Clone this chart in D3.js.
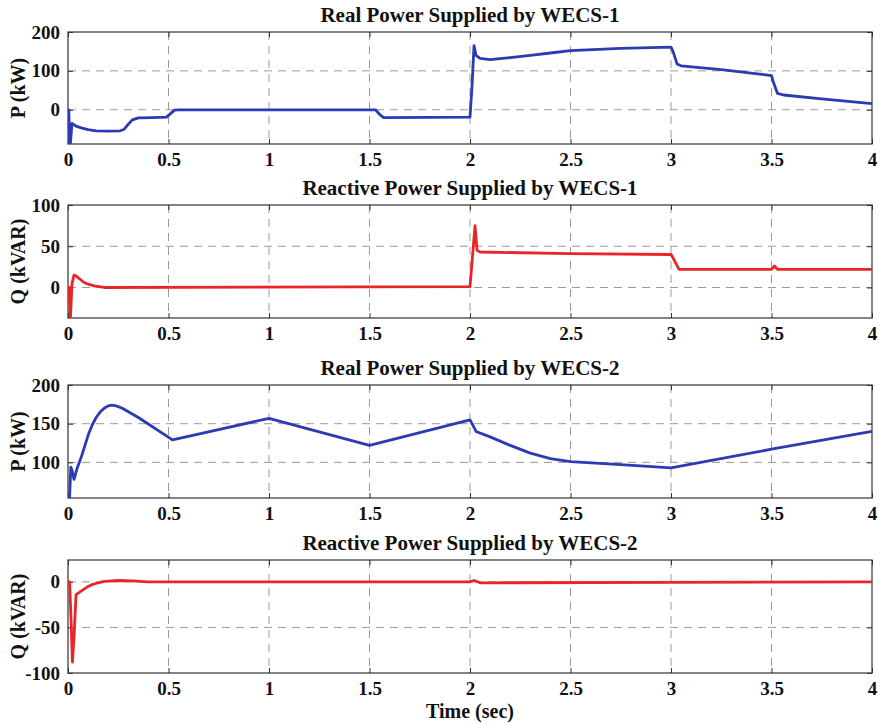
<!DOCTYPE html>
<html>
<head>
<meta charset="utf-8">
<script src="https://cdn.jsdelivr.net/npm/d3@7"></script>
<style>
  body { margin: 0; background: #fff; }
  text { font-family: "Liberation Serif", "Times New Roman", serif; font-weight: bold; fill: #111; }
</style>
</head>
<body>
<div id="chart"></div>
<script>
// time axis ticks shared by all four panels
var timeTicks = [0, 0.5, 1, 1.5, 2, 2.5, 3, 3.5, 4]

// real power WECS-1 (kW)
var p1Time = [0, 0.004, 0.008, 0.012, 0.02, 0.04, 0.07, 0.1, 0.14, 0.2, 0.26, 0.28, 0.3, 0.32, 0.35, 0.42, 0.49, 0.51, 0.53, 0.55, 1.53, 1.55, 1.57, 2.0, 2.01, 2.02, 2.03, 2.05, 2.1, 2.2, 2.3, 2.4, 2.5, 2.75, 3.0, 3.01, 3.03, 3.05, 3.25, 3.5, 3.51, 3.53, 3.56, 3.75, 4.0]
var p1Values = [0, 0, -86, -86, -35, -42, -47, -51, -54, -55, -54, -50, -37, -26, -21, -20, -19, -10, -1, 0, 0, -12, -20, -19, 60, 165, 140, 132, 129, 134, 140, 146, 152, 158, 161, 150, 118, 113, 103, 88, 70, 42, 38, 28, 16]

// reactive power WECS-1 (kVAR)
var q1Time = [0, 0.006, 0.012, 0.02, 0.03, 0.04, 0.06, 0.08, 0.1, 0.13, 0.18, 2.0, 2.01, 2.025, 2.035, 2.05, 2.5, 3.0, 3.01, 3.04, 3.5, 3.515, 3.53, 4.0]
var q1Values = [0, 0, -38, 5, 15, 14, 10, 6, 4, 2, 0, 1, 30, 75, 45, 43, 41, 40, 36, 22, 22, 26, 22, 22]

// real power WECS-2 (kW)
var p2Time = [0, 0.008, 0.014, 0.02, 0.03, 0.045, 0.07, 0.1, 0.12, 0.14, 0.16, 0.18, 0.2, 0.22, 0.24, 0.27, 0.35, 0.52, 1.0, 1.5, 2.0, 2.01, 2.03, 2.1, 2.2, 2.3, 2.4, 2.5, 2.75, 3.0, 3.5, 4.0]
var p2Values = [55, 55, 94, 90, 78, 92, 110, 135, 148, 158, 165, 170, 173, 174, 173, 170, 158, 129, 157, 122, 155, 150, 140, 133, 122, 112, 105, 101, 97, 93, 117, 140]

// reactive power WECS-2 (kVAR)
var q2Time = [0, 0.008, 0.015, 0.022, 0.03, 0.04, 0.06, 0.08, 0.1, 0.12, 0.15, 0.18, 0.25, 0.32, 0.4, 2.0, 2.02, 2.05, 2.1, 4.0]
var q2Values = [0, 0, -40, -88, -60, -14, -11, -8, -5, -3, -1, 0.5, 1.5, 1, 0, 0, 1.5, -1, -1, 0]

var panels = [
  {title: "Real Power Supplied by WECS-1", ylabel: "P (kW)", t: p1Time, v: p1Values, domain: [-88, 200], ticks: [0, 100, 200], color: "#2b3bb3", top: 32, bottom: 144},
  {title: "Reactive Power Supplied by WECS-1", ylabel: "Q (kVAR)", t: q1Time, v: q1Values, domain: [-37, 100], ticks: [0, 50, 100], color: "#e9252a", top: 205, bottom: 318},
  {title: "Real Power Supplied by WECS-2", ylabel: "P (kW)", t: p2Time, v: p2Values, domain: [54, 200], ticks: [100, 150, 200], color: "#2b3bb3", top: 385, bottom: 498},
  {title: "Reactive Power Supplied by WECS-2", ylabel: "Q (kVAR)", t: q2Time, v: q2Values, domain: [-100, 24], ticks: [-100, -50, 0], color: "#e9252a", top: 560, bottom: 673}
]

var width = 884, height = 724
var left = 68, right = 872

var svg = d3.select("#chart").append("svg")
  .attr("width", width)
  .attr("height", height)

var x = d3.scaleLinear().domain([0, 4]).range([left, right])

// plain hyphen for negatives, like the matlab labels
var plain = d => String(d)

panels.forEach(function(p, i) {
  var y = d3.scaleLinear().domain(p.domain).range([p.bottom, p.top])
  var g = svg.append("g")

  // clip so the start-up spikes are cut at the frame like in matlab
  g.append("clipPath").attr("id", "clip" + i)
    .append("rect").attr("x", left).attr("y", p.top)
    .attr("width", right - left).attr("height", p.bottom - p.top)

  // dashed grid
  g.selectAll(".vgrid").data(timeTicks.slice(1, -1)).enter()
    .append("line")
      .attr("x1", d => x(d)).attr("x2", d => x(d))
      .attr("y1", p.top).attr("y2", p.bottom)
      .attr("stroke", "#9a9a9a").attr("stroke-width", 1)
      .attr("stroke-dasharray", "8,6")
  g.selectAll(".hgrid").data(p.ticks.filter(d => y(d) > p.top + 1 && y(d) < p.bottom - 1)).enter()
    .append("line")
      .attr("x1", left).attr("x2", right)
      .attr("y1", d => y(d)).attr("y2", d => y(d))
      .attr("stroke", "#9a9a9a").attr("stroke-width", 1)
      .attr("stroke-dasharray", "8,6")

  // axes with inward ticks on all four sides
  var tickLen = 5
  g.append("g").attr("transform", "translate(0," + p.bottom + ")")
    .call(d3.axisBottom(x).tickValues(timeTicks).tickSize(-tickLen).tickPadding(9).tickFormat(plain))
  g.append("g").attr("transform", "translate(0," + p.top + ")")
    .call(d3.axisTop(x).tickValues(timeTicks).tickSize(-tickLen).tickFormat(""))
  g.append("g").attr("transform", "translate(" + left + ",0)")
    .call(d3.axisLeft(y).tickValues(p.ticks).tickSize(-tickLen).tickPadding(8).tickFormat(plain))
  g.append("g").attr("transform", "translate(" + right + ",0)")
    .call(d3.axisRight(y).tickValues(p.ticks).tickSize(-tickLen).tickFormat(""))

  g.selectAll(".domain").remove()
  g.selectAll(".tick line").attr("stroke", "#333")
  g.selectAll(".tick text")
    .style("font-family", '"Liberation Serif", serif')
    .style("font-weight", "bold")
    .style("font-size", "19px")
    .attr("fill", "#111")

  // frame
  g.append("rect")
    .attr("x", left).attr("y", p.top)
    .attr("width", right - left).attr("height", p.bottom - p.top)
    .attr("fill", "none").attr("stroke", "#333").attr("stroke-width", 1.2)

  // the series
  var line = d3.line().x((d, j) => x(p.t[j])).y(d => y(d))
  g.append("path")
    .datum(p.v)
    .attr("clip-path", "url(#clip" + i + ")")
    .attr("d", line)
    .attr("fill", "none")
    .attr("stroke", p.color)
    .attr("stroke-width", 2.8)
    .attr("stroke-linejoin", "round")

  // title
  g.append("text")
    .attr("x", (left + right) / 2).attr("y", p.top - 10)
    .attr("text-anchor", "middle")
    .style("font-size", "21px")
    .text(p.title)

  // y label
  g.append("text")
    .attr("transform", "translate(25," + ((p.top + p.bottom) / 2) + ") rotate(-90)")
    .attr("text-anchor", "middle")
    .style("font-size", "20px")
    .text(p.ylabel)
})

svg.append("text")
  .attr("x", (left + right) / 2).attr("y", 718)
  .attr("text-anchor", "middle")
  .style("font-size", "20px")
  .text("Time (sec)")
</script>
</body>
</html>
